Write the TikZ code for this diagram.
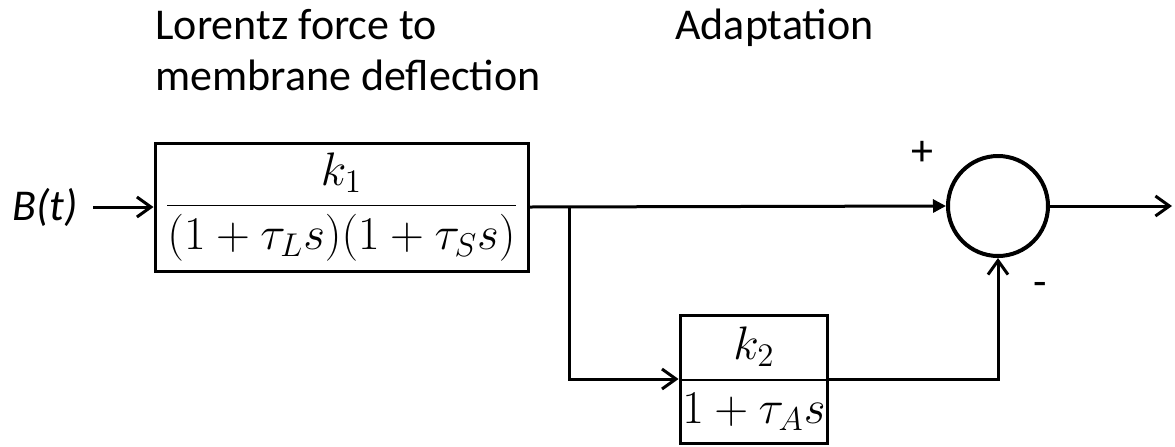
\RequirePackage{fix-cm}
\documentclass[tikz,border=0pt]{standalone}
\usepackage{amsmath}
\usepackage{fontspec}
\setmainfont{Carlito}
\usetikzlibrary{arrows.meta}

\begin{document}
\begin{tikzpicture}[x=0.5pt,y=-0.5pt,font=\fontsize{22}{25.5}\selectfont,
  blk/.style={draw,line width=1.5pt,inner sep=0pt,font=\fontsize{23.5}{28}\selectfont},
  sumc/.style={circle,draw,line width=2pt,minimum size=50pt,inner sep=0pt},
  w/.style={line width=1.5pt},
  barb/.style={w,-{Straight Barb[length=7pt,width=10pt,line width=1.5pt]}},
  tri/.style={w,-{Triangle[length=6.5pt,width=6.5pt]}},
  lab/.style={align=left,inner sep=0pt}]
  \useasboundingbox (0,0) rectangle (1175,446);
  % headings over the two stages
  \node[lab,anchor=base west] (hlor) at (155,90) {Lorentz force to\\membrane deflection};
  \node[lab,anchor=base west] (hada) at (675,39) {Adaptation};
  % blocks and summing junction
  \node[blk,minimum width=186.5pt,minimum height=64pt] (lor) at (341.5,207)
    {$\dfrac{k_1}{(1+\tau_L s)(1+\tau_S s)}$};
  \node[blk,minimum width=72pt,minimum height=64pt] (ada) at (754,379)
    {$\dfrac{k_2}{1+\tau_A s}$};
  \node[sumc] (sum) at (998,206) {};
  \node[lab,anchor=east] (bt) at (78,207) {\itshape B(t)};
  \node[lab] (pl) at (922,153) {+};
  \node[lab] (mi) at (1040,289) {-};
  \coordinate (br) at (569,207);
  \coordinate (out) at (1172,206);
  % signal paths
  \draw[barb] ([xshift=7.5pt]bt.east) -- (lor.west);
  \draw[tri] (lor.east) -- (sum.west);
  \draw[barb] (br) |- (ada.west);
  \draw[barb] (ada.east) -| (sum.south);
  \draw[barb] (sum.east) -- (out);
\end{tikzpicture}
\end{document}
